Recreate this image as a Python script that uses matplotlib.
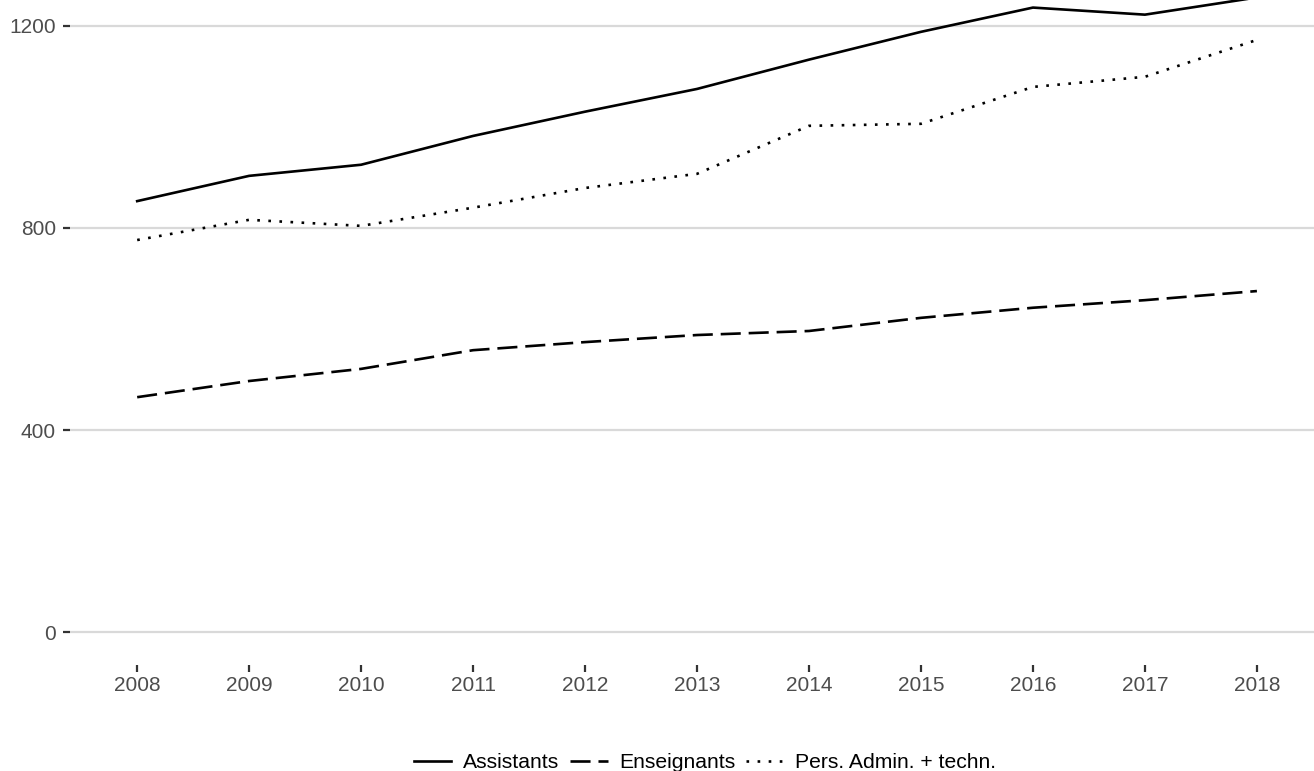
import numpy as np
import matplotlib
matplotlib.use("Agg")
import matplotlib.pyplot as plt

plt.rcParams['font.family'] = ['Liberation Sans', 'DejaVu Sans']

# Effectifs par année
annees = [2008, 2009, 2010, 2011, 2012, 2013, 2014, 2015, 2016, 2017, 2018]
assistants = [853, 903, 925, 982, 1030, 1075, 1133, 1188, 1236, 1222, 1256]
enseignants = [465, 497, 521, 558, 574, 588, 596, 622, 642, 657, 675]
pers_admin = [776, 816, 804, 840, 879, 907, 1002, 1006, 1079, 1099, 1172]

fig = plt.figure(figsize=(13.14, 7.71), dpi=100)
ax = fig.add_axes([70/1314, (771-665)/771, 1 - 70/1314, 665/771])

lw = 1.9
ax.plot(annees, assistants, color='black', lw=lw, ls='-', label='Assistants')
ax.plot(annees, enseignants, color='black', lw=lw, ls=(0, (7.6, 3)), label='Enseignants')
ax.plot(annees, pers_admin, color='black', lw=lw, ls=(0, (1, 3.2)), label='Pers. Admin. + techn.')

ax.set_xlim(2007.4, 2018.51)
ax.set_ylim(-65, 1251)
ax.set_xticks(annees)
ax.set_yticks([0, 400, 800, 1200])

ax.grid(axis='y', color='#d9d9d9', lw=1.6)
ax.grid(axis='x', visible=False)
ax.set_axisbelow(True)
for s in ax.spines.values():
    s.set_visible(False)

ax.tick_params(axis='both', colors='#333333', labelcolor='#4d4d4d', labelsize=15,
               width=1.6, length=5)
ax.tick_params(axis='y', pad=5)
ax.tick_params(axis='x', pad=3)

fig.legend(loc='center', bbox_to_anchor=(705/1314, 1 - 763/771), ncol=3, frameon=False,
           fontsize=15.2, handlelength=1.78, handletextpad=0.53, columnspacing=0.53,
           borderaxespad=0, borderpad=0)

fig.savefig('out.png', dpi=100)
